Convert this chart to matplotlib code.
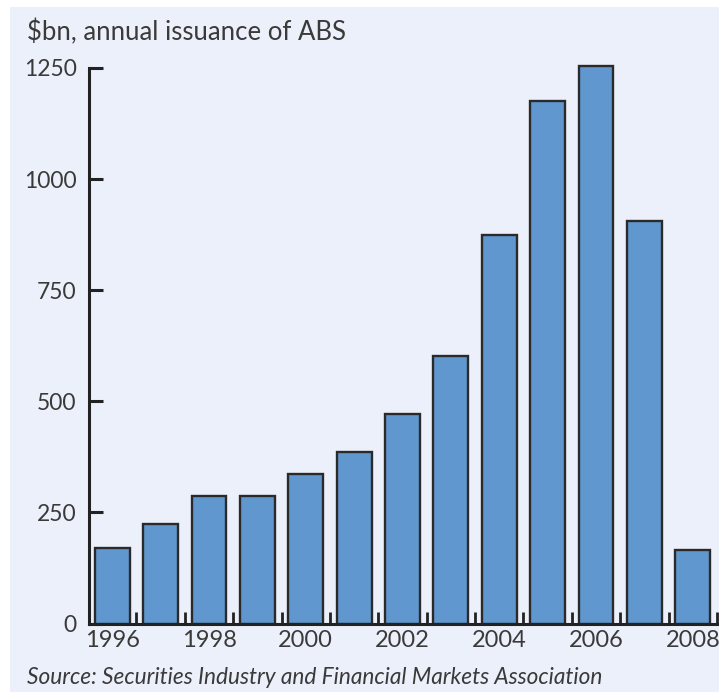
import matplotlib.pyplot as plt
import numpy as np
from matplotlib.patches import Rectangle

# annual issuance of ABS, $bn
years = [1996, 1997, 1998, 1999, 2000, 2001, 2002, 2003, 2004, 2005, 2006, 2007, 2008]
issuance = [171, 225, 287, 287, 337, 386, 472, 603, 874, 1175, 1255, 905, 165]
label_years = [1996, 1998, 2000, 2002, 2004, 2006, 2008]
y_ticks = [0, 250, 500, 750, 1000, 1250]

bg = '#ECF0FA'
bar_col = '#6097CE'
edge_col = '#2A2A2A'
text_col = '#3A3A3A'

plt.rcParams['font.family'] = ['Lato', 'DejaVu Sans']

fig = plt.figure(figsize=(7.19, 6.92), dpi=100)
fig.patch.set_facecolor('white')
# light blue panel, white strip on top and left
fig.patches.append(Rectangle((10 / 719, 0), 1, 1 - 7 / 692, transform=fig.transFigure,
                             facecolor=bg, edgecolor='none', zorder=-5))

ax = fig.add_axes([89 / 719, 1 - 623.5 / 692, (717 - 89) / 719, (623.5 - 68) / 692])
ax.patch.set_alpha(0)

bars = ax.bar(years, issuance, width=0.72, color=bar_col, edgecolor=edge_col,
              linewidth=1.7, zorder=2)
for b in bars:
    b.set_clip_on(False)

ax.set_xlim(1995.52, 2008.5)
ax.set_ylim(0, 1250)

for s in ['top', 'right']:
    ax.spines[s].set_visible(False)
for s in ['left', 'bottom']:
    ax.spines[s].set_linewidth(2.2)
    ax.spines[s].set_color('#222222')
    ax.spines[s].set_zorder(3)

# y axis ticks point inward
ax.set_yticks(y_ticks)
ax.tick_params(axis='y', direction='in', length=10, width=2.2, color='#222222',
               labelsize=16.5, labelcolor=text_col, pad=9)

# x axis: small ticks between bars, labels on even years
ax.set_xticks(np.array(years) + 0.5)
ax.set_xticklabels([])
ax.tick_params(axis='x', which='major', direction='in', length=9, width=2, color='#222222')
ax.set_xticks(label_years, minor=True)
ax.set_xticklabels([str(y) for y in label_years], minor=True)
ax.tick_params(axis='x', which='minor', length=0, labelsize=17, labelcolor=text_col, pad=5)

fig.text(27 / 719, 1 - 32 / 692, '$bn, annual issuance of ABS', fontsize=18.5,
         color=text_col, ha='left', va='center')
fig.text(27 / 719, 1 - 678 / 692, 'Source: Securities Industry and Financial Markets Association',
         fontsize=16.3, style='italic', color=text_col, ha='left', va='center')

plt.savefig('out.png', dpi=100, facecolor=fig.get_facecolor())
